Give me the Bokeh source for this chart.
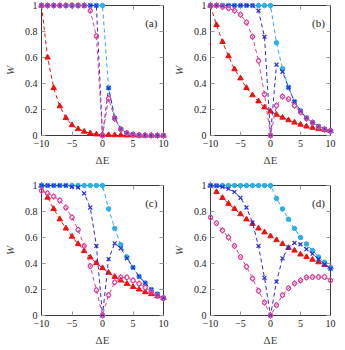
from bokeh.plotting import figure
from bokeh.layouts import gridplot
from bokeh.models import LinearAxis, FixedTicker, Label, Range1d
from bokeh.embed import file_html
from bokeh.resources import INLINE

# ---------------- data ----------------
dE = [-10, -9, -8, -7, -6, -5, -4, -3, -2, -1, 0, 1, 2, 3, 4, 5, 6, 7, 8, 9, 10]
x_ticks = [-10, -5, 0, 5, 10]
x_tick_labels = ["\u221210", "\u22125", "0", "5", "10"]
y_ticks = [0, 0.2, 0.4, 0.6, 0.8, 1]
y_tick_labels = ["0", "0.2", "0.4", "0.6", "0.8", "1"]
panel_labels = ["(a)", "(b)", "(c)", "(d)"]

# panel (a)
red_a = [1.0, 0.6, 0.365, 0.225, 0.135, 0.08, 0.05, 0.03, 0.017, 0.009, 0.006, 0.004, 0.003, 0.002, 0.001, 0.001, 0.0, 0.0, 0.0, 0.0, 0.0]
mag_a = [1, 1, 1, 1, 1, 1, 1, 1, 0.96, 0.765, 0.0, 0.285, 0.13, 0.047, 0.018, 0.007, 0.002, 0.001, 0.0, 0.0, 0.0]
blu_a = [1, 1, 1, 1, 1, 1, 1, 1, 1, 1, 0.0, 0.366, 0.135, 0.05, 0.018, 0.007, 0.002, 0.001, 0.0, 0.0, 0.0]
cya_a = [1, 1, 1, 1, 1, 1, 1, 1, 1, 1, 1, 0.366, 0.135, 0.05, 0.018, 0.007, 0.002, 0.001, 0.0, 0.0, 0.0]

# panel (b)
red_b = [1.0, 0.85, 0.72, 0.61, 0.51, 0.44, 0.366, 0.31, 0.263, 0.217, 0.185, 0.16, 0.138, 0.118, 0.1, 0.084, 0.07, 0.06, 0.05, 0.043, 0.035]
mag_b = [1, 1, 0.99, 0.98, 0.96, 0.93, 0.87, 0.76, 0.575, 0.317, 0.0, 0.23, 0.3, 0.28, 0.23, 0.18, 0.13, 0.1, 0.065, 0.045, 0.035]
blu_b = [1, 1, 1, 1, 1, 1, 1, 1, 0.96, 0.76, 0.0, 0.545, 0.49, 0.37, 0.26, 0.19, 0.135, 0.1, 0.07, 0.05, 0.035]
cya_b = [1, 1, 1, 1, 1, 1, 1, 1, 1, 1, 1, 0.713, 0.514, 0.37, 0.26, 0.19, 0.135, 0.1, 0.07, 0.05, 0.035]

# panel (c)
red_c = [1.0, 0.907, 0.82, 0.74, 0.67, 0.607, 0.55, 0.496, 0.447, 0.404, 0.365, 0.33, 0.298, 0.27, 0.244, 0.22, 0.2, 0.18, 0.165, 0.149, 0.135]
mag_c = [0.96, 0.94, 0.915, 0.885, 0.83, 0.755, 0.66, 0.535, 0.38, 0.195, 0.0, 0.157, 0.255, 0.293, 0.293, 0.27, 0.245, 0.215, 0.183, 0.152, 0.13]
blu_c = [1, 1, 1, 1, 1, 0.99, 0.985, 0.94, 0.83, 0.535, 0.0, 0.434, 0.555, 0.517, 0.44, 0.37, 0.3, 0.25, 0.2, 0.165, 0.135]
cya_c = [1, 1, 1, 1, 1, 1, 1, 1, 1, 1, 1, 0.82, 0.67, 0.545, 0.45, 0.37, 0.3, 0.25, 0.2, 0.165, 0.135]

# panel (d)
red_d = [1.0, 0.95, 0.905, 0.86, 0.82, 0.78, 0.74, 0.705, 0.67, 0.64, 0.61, 0.58, 0.55, 0.52, 0.5, 0.47, 0.45, 0.43, 0.41, 0.39, 0.37]
mag_d = [0.755, 0.71, 0.655, 0.6, 0.535, 0.45, 0.375, 0.285, 0.19, 0.1, 0.0, 0.08, 0.157, 0.21, 0.247, 0.27, 0.293, 0.296, 0.296, 0.296, 0.27]
blu_d = [1, 0.997, 0.99, 0.975, 0.95, 0.905, 0.83, 0.715, 0.535, 0.29, 0.0, 0.26, 0.44, 0.524, 0.558, 0.548, 0.51, 0.475, 0.434, 0.393, 0.36]
cya_d = [1, 1, 1, 1, 1, 1, 1, 1, 1, 1, 1, 0.9, 0.82, 0.74, 0.67, 0.6, 0.55, 0.5, 0.45, 0.41, 0.37]

panels = [
    (red_a, mag_a, blu_a, cya_a),
    (red_b, mag_b, blu_b, cya_b),
    (red_c, mag_c, blu_c, cya_c),
    (red_d, mag_d, blu_d, cya_d),
]

# ---------------- styling ----------------
FONT = "'Liberation Serif', 'DejaVu Serif', serif"
RED = "#ee1111"
MAG = "#e2409c"
BLU = "#2a2ae0"
CYA = "#2bb0e6"
FRAME = "#3a3a3a"
TICK = "#9a9a9a"
DASH = "4 3"


def style_axis(ax, labels_on, ticks, tick_labels):
    ax.ticker = FixedTicker(ticks=ticks)
    ax.minor_tick_line_color = None
    ax.major_tick_in = 4
    ax.major_tick_out = 0
    ax.major_tick_line_color = TICK
    ax.axis_line_color = FRAME
    ax.axis_line_width = 1
    if labels_on:
        ax.major_label_overrides = dict(zip(ticks, tick_labels))
        ax.major_label_text_font = FONT
        ax.major_label_text_font_size = "10px"
        ax.major_label_text_color = "#222222"
        ax.major_label_standoff = 4
    else:
        ax.major_label_text_color = None
        ax.major_label_standoff = 0


def make_panel(label, red, mag, blu, cya, col, row):
    p = figure(width=(169 if col == 0 else 167), height=(180 if row == 0 else 169),
               x_range=Range1d(-10, 10), y_range=Range1d(0, 1),
               output_backend="svg", toolbar_location=None,
               min_border_left=(36 if col == 0 else 34), min_border_right=6,
               min_border_top=5, min_border_bottom=(45 if row == 0 else 34))
    p.grid.visible = False
    p.outline_line_color = FRAME
    p.background_fill_color = "white"
    p.border_fill_color = "white"

    style_axis(p.xaxis[0], True, x_ticks, x_tick_labels)
    style_axis(p.yaxis[0], True, y_ticks, y_tick_labels)
    p.xaxis[0].axis_label = "\u0394E"
    p.xaxis[0].axis_label_text_font = FONT
    p.xaxis[0].axis_label_text_font_style = "normal"
    p.xaxis[0].axis_label_text_font_size = "11px"
    p.xaxis[0].axis_label_standoff = 4
    p.yaxis[0].axis_label = "W"
    p.yaxis[0].axis_label_text_font = FONT
    p.yaxis[0].axis_label_text_font_style = "italic"
    p.yaxis[0].axis_label_text_font_size = "11px"
    p.yaxis[0].axis_label_standoff = 6

    top = LinearAxis()
    style_axis(top, False, x_ticks, x_tick_labels)
    p.add_layout(top, "above")
    right = LinearAxis()
    style_axis(right, False, y_ticks, y_tick_labels)
    p.add_layout(right, "right")

    lv = "overlay"
    # red triangles
    p.line(dE, red, line_color=RED, line_width=1, line_dash=DASH, level=lv)
    p.scatter(dE, red, marker="triangle", size=5.5, fill_color=RED, line_color=RED, level=lv)
    # cyan filled circles
    p.line(dE, cya, line_color=CYA, line_width=1, line_dash=DASH, level=lv)
    p.scatter(dE, cya, marker="circle", size=4.5, fill_color=CYA, line_color=CYA, level=lv)
    # blue crosses
    p.line(dE, blu, line_color=BLU, line_width=1, line_dash=DASH, level=lv)
    p.scatter(dE, blu, marker="x", size=5.5, line_color=BLU, line_width=1.2, level=lv)
    # magenta open circles / diamonds
    p.line(dE, mag, line_color=MAG, line_width=1, line_dash=DASH, level=lv)
    p.scatter(dE, mag, marker="circle", size=4.5, fill_color=None, line_color=MAG, line_width=1, level=lv)
    p.scatter(dE, mag, marker="diamond", size=6, fill_color=None, line_color=MAG, line_width=1, level=lv)

    p.add_layout(Label(x=8.0, y=0.868, text=label, text_align="center",
                       text_baseline="middle", text_font=FONT,
                       text_font_size="11px", text_color="#222222"))
    return p


figs = [make_panel(lbl, *data, col=i % 2, row=i // 2)
        for i, (lbl, data) in enumerate(zip(panel_labels, panels))]
grid = gridplot([[figs[0], figs[1]], [figs[2], figs[3]]], toolbar_location=None)

open("out.html", "w").write(file_html(grid, INLINE))
